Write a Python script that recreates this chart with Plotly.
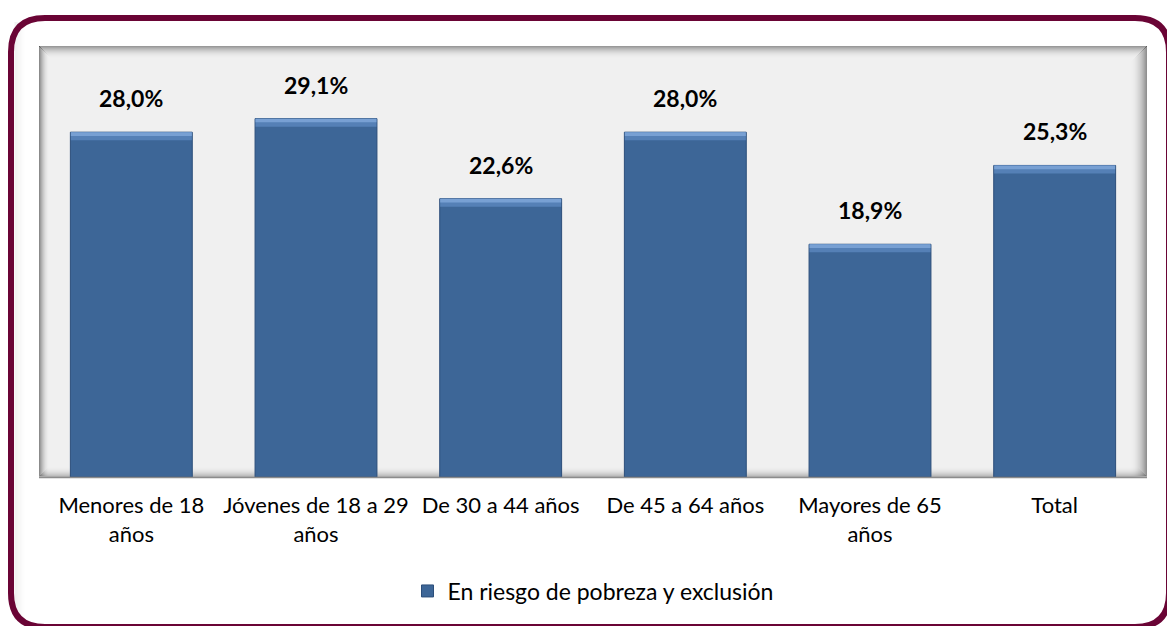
import plotly.graph_objects as go

categories = ["Menores de 18<br>años", "Jóvenes de 18 a 29<br>años", "De 30 a 44 años",
              "De 45 a 64 años", "Mayores de 65<br>años", "Total"]
values = [28.0, 29.1, 22.6, 28.0, 18.9, 25.3]
value_labels = ["28,0%", "29,1%", "22,6%", "28,0%", "18,9%", "25,3%"]
series_name = "En riesgo de pobreza y exclusión"

W, H = 1167, 626
L, R, T, B = 39, 1147, 46, 477  # plot area pixel box
FONT = "Lato"


def px(x):
    return (x - L) / (R - L)


def py(y):
    return (B - y) / (B - T)


fig = go.Figure()
fig.add_trace(go.Bar(
    x=categories, y=values, name=series_name,
    marker=dict(color="#3d6697", line=dict(color="#2c4e7a", width=1)),
    width=0.66, showlegend=True,
))
# bevel highlight strips on top of each bar
fig.add_trace(go.Bar(
    x=categories, y=[0.65] * len(values), base=[v - 0.65 for v in values],
    marker=dict(color="#5580b6", line=dict(width=0)),
    width=0.655, showlegend=False, hoverinfo="skip",
))
fig.add_trace(go.Bar(
    x=categories, y=[0.3] * len(values), base=[v - 0.3 for v in values],
    marker=dict(color="#78a0d3", line=dict(width=0)),
    width=0.655, showlegend=False, hoverinfo="skip",
))

for c, v, t in zip(categories, values, value_labels):
    fig.add_annotation(x=c, y=v, text="<b>" + t + "</b>", showarrow=False,
                       yshift=34, font=dict(family=FONT, size=23, color="#000000"))

shapes = []


def edge_lines(n, amax, side):
    for i in range(n):
        a = amax * (1 - i / n) ** 2
        col = f"rgba(0,0,0,{a:.3f})"
        if side == "left":
            x = px(L + i + 0.5)
            shapes.append(dict(type="line", xref="paper", yref="paper", x0=x, x1=x,
                               y0=py(B - 1), y1=py(T + i), line=dict(color=col, width=1), layer="below"))
        elif side == "right":
            x = px(R - i - 0.5)
            shapes.append(dict(type="line", xref="paper", yref="paper", x0=x, x1=x,
                               y0=py(B - 1), y1=py(T + i), line=dict(color=col, width=1), layer="below"))
        elif side == "top":
            y = py(T + i + 0.5)
            shapes.append(dict(type="line", xref="paper", yref="paper", x0=px(L + i), x1=px(R - i),
                               y0=y, y1=y, line=dict(color=col, width=1), layer="below"))
        else:
            y = py(B - i - 0.5)
            shapes.append(dict(type="line", xref="paper", yref="paper", x0=px(L + i), x1=px(R - i),
                               y0=y, y1=y, line=dict(color=col, width=1), layer="below"))


edge_lines(10, 0.42, "left")
edge_lines(16, 0.40, "right")
edge_lines(12, 0.36, "top")
edge_lines(10, 0.25, "bottom")
shapes.append(dict(type="line", xref="paper", yref="paper", x0=0, x1=1, y0=py(B + 0.5), y1=py(B + 0.5),
                   line=dict(color="#8c8c8c", width=1.5), layer="above"))

# soft inner shadow of white card inside the frame
for i in range(10):
    a = 0.06 * (1 - i / 10)
    shapes.append(dict(type="line", xref="paper", yref="paper", x0=px(15 + i), x1=px(15 + i),
                       y0=py(620), y1=py(22), line=dict(color=f"rgba(0,0,0,{a:.3f})", width=1),
                       layer="below"))

# outer maroon rounded frame
x0, y0, x1, y1, r = 11, 18, 1169, 627, 34
path = (f"M {px(x0 + r)},{py(y0)} L {px(x1 - r)},{py(y0)} "
        f"Q {px(x1)},{py(y0)} {px(x1)},{py(y0 + r)} "
        f"L {px(x1)},{py(y1 - r)} Q {px(x1)},{py(y1)} {px(x1 - r)},{py(y1)} "
        f"L {px(x0 + r)},{py(y1)} Q {px(x0)},{py(y1)} {px(x0)},{py(y1 - r)} "
        f"L {px(x0)},{py(y0 + r)} Q {px(x0)},{py(y0)} {px(x0 + r)},{py(y0)} Z")
shapes.append(dict(type="path", xref="paper", yref="paper", path=path,
                   line=dict(color="#6a0435", width=6), layer="below"))

fig.update_layout(
    width=W, height=H,
    margin=dict(l=L, r=W - R, t=T, b=H - B, autoexpand=False),
    paper_bgcolor="#ffffff", plot_bgcolor="#f0f0f0",
    barmode="overlay",
    font=dict(family=FONT, size=22, color="#000000"),
    separators=",.",
    shapes=shapes,
    showlegend=True,
    legend=dict(orientation="h", x=0.5, xanchor="center", y=py(591), yanchor="middle",
                font=dict(family=FONT, size=23, color="#000000"),
                bgcolor="rgba(0,0,0,0)"),
    xaxis=dict(showgrid=False, showline=False, zeroline=False, ticks="",
               ticklabelstandoff=13, tickfont=dict(family=FONT, size=22),
               fixedrange=True),
    yaxis=dict(range=[0, 35], showgrid=False, showticklabels=False, zeroline=False,
               showline=False, ticks="", fixedrange=True),
)

fig.write_html("out.html", config={"displayModeBar": False},
               post_script="document.body.style.margin='0';")
